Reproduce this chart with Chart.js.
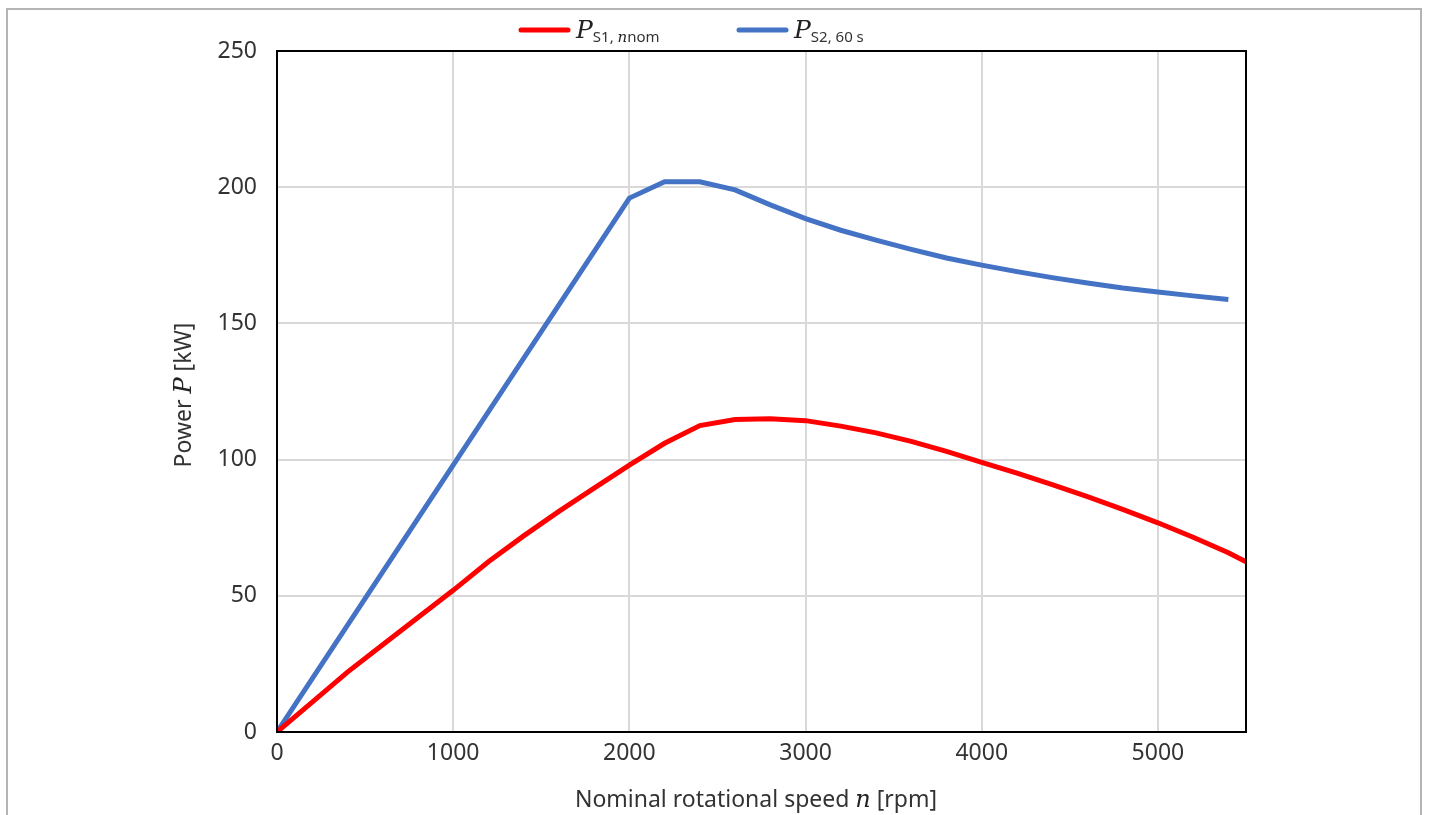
<!DOCTYPE html>
<html>
<head>
<meta charset="utf-8">
<script src="https://cdn.jsdelivr.net/npm/chart.js@4.4.0/dist/chart.umd.min.js"></script>
<style>
  html, body { margin: 0; padding: 0; background: #fff; }
  #wrap { position: relative; width: 1431px; height: 815px; }
  #frame { position: absolute; left: 6px; top: 8px; width: 1416px; height: 900px; border: 2px solid #b4b4b4; box-sizing: border-box; }
  canvas { position: absolute; left: 0; top: 0; }
</style>
</head>
<body>
<div id="wrap">
  <div id="frame"></div>
  <canvas id="c" width="1431" height="815"></canvas>
</div>
<script>
// ---- data ----
const redSpeed = [0, 200, 400, 600, 800, 1000, 1200, 1400, 1600, 1800, 2000, 2200, 2400, 2600, 2800, 3000, 3200, 3400, 3600, 3800, 4000, 4200, 4400, 4600, 4800, 5000, 5200, 5400, 5500];
const redPower = [0, 11, 22, 32, 42, 52, 62.5, 72, 81, 89.5, 98, 106, 112.5, 114.7, 115, 114.3, 112.3, 109.8, 106.7, 103, 99, 95, 90.8, 86.4, 81.7, 76.8, 71.5, 65.8, 62.5];
const blueSpeed = [0, 2000, 2200, 2400, 2600, 2800, 3000, 3200, 3400, 3600, 3800, 4000, 4200, 4400, 4600, 4800, 5000, 5200, 5400];
const bluePower = [0, 196, 202, 202, 199, 193.5, 188.5, 184.2, 180.6, 177.2, 174, 171.4, 169, 166.8, 164.8, 163, 161.5, 160.1, 158.8];
const xTicks = [0, 1000, 2000, 3000, 4000, 5000];
const yTicks = [0, 50, 100, 150, 200, 250];

const SANS = '"Noto Sans", "Open Sans", sans-serif';
const SERIF = '"DejaVu Serif", "Liberation Serif", serif';

function drawRich(ctx, segs, cx, cy, align) {
  let total = 0;
  segs.forEach(s => { ctx.font = s.font; s.w = ctx.measureText(s.text).width; total += s.w; });
  let x = align === 'left' ? cx : cx - total / 2;
  segs.forEach(s => {
    ctx.font = s.font;
    ctx.fillStyle = s.color || '#333';
    ctx.textBaseline = 'alphabetic';
    ctx.textAlign = 'left';
    ctx.fillText(s.text, x, cy + (s.dy || 0));
    x += s.w;
  });
}

const decor = {
  id: 'decor',
  afterDraw(chart) {
    const ctx = chart.ctx;
    const a = chart.chartArea;
    ctx.save();
    // plot frame
    ctx.strokeStyle = '#000';
    ctx.lineWidth = 2;
    ctx.strokeRect(a.left, a.top, a.right - a.left, a.bottom - a.top);
    // x title
    drawRich(ctx, [
      { text: 'Nominal rotational speed ', font: '23px ' + SANS },
      { text: 'n', font: 'italic 24px ' + SERIF, color: '#222' },
      { text: ' [rpm]', font: '23px ' + SANS }
    ], 756, 807);
    // y title (rotated)
    ctx.save();
    ctx.translate(191, 395);
    ctx.rotate(-Math.PI / 2);
    drawRich(ctx, [
      { text: 'Power ', font: '23px ' + SANS },
      { text: 'P', font: 'italic 24px ' + SERIF, color: '#222' },
      { text: ' [kW]', font: '23px ' + SANS }
    ], 0, 0);
    ctx.restore();
    // legend
    const items = [
      { x: 521, color: '#ff0000', sub: 'S1, ', subI: 'n', subEnd: 'nom' },
      { x: 739, color: '#4472c4', sub: 'S2, 60 s', subI: '', subEnd: '' }
    ];
    items.forEach(it => {
      ctx.strokeStyle = it.color;
      ctx.lineWidth = 5;
      ctx.lineCap = 'round';
      ctx.beginPath();
      ctx.moveTo(it.x, 30);
      ctx.lineTo(it.x + 47, 30);
      ctx.stroke();
      const segs = [
        { text: 'P', font: 'italic 25px ' + SERIF, color: '#222' },
        { text: it.sub, font: '15px ' + SANS, dy: 4 }
      ];
      if (it.subI) segs.push({ text: it.subI, font: 'italic 15px ' + SERIF, dy: 4, color: '#222' });
      if (it.subEnd) segs.push({ text: it.subEnd, font: '15px ' + SANS, dy: 4 });
      drawRich(ctx, segs, it.x + 55, 38, 'left');
    });
    ctx.restore();
  }
};

new Chart(document.getElementById('c'), {
  type: 'line',
  data: {
    datasets: [
      {
        label: 'P S1, n nom',
        data: redSpeed.map((s, i) => ({ x: s, y: redPower[i] })),
        borderColor: '#ff0000',
        borderWidth: 5,
        pointRadius: 0,
        fill: false,
        tension: 0
      },
      {
        label: 'P S2, 60 s',
        data: blueSpeed.map((s, i) => ({ x: s, y: bluePower[i] })),
        borderColor: '#4472c4',
        borderWidth: 5,
        pointRadius: 0,
        fill: false,
        tension: 0
      }
    ]
  },
  options: {
    responsive: false,
    animation: false,
    devicePixelRatio: 1,
    layout: { padding: { left: 0, top: 51, right: 185, bottom: 0 } },
    plugins: { legend: { display: false }, tooltip: { enabled: false } },
    scales: {
      x: {
        type: 'linear',
        min: 0, max: 5500,
        afterBuildTicks: s => { s.ticks = xTicks.map(v => ({ value: v })); },
        afterFit: s => { s.height = 83; },
        grid: { color: '#d9d9d9', lineWidth: 2, drawTicks: false },
        border: { display: false },
        ticks: { padding: 8, color: '#333', font: { family: SANS, size: 23 }, callback: v => String(v) }
      },
      y: {
        min: 0, max: 250,
        afterBuildTicks: s => { s.ticks = yTicks.map(v => ({ value: v })); },
        afterFit: s => { s.width = 277; },
        grid: { color: '#d9d9d9', lineWidth: 2, drawTicks: false },
        border: { display: false },
        ticks: { padding: 20, color: '#333', font: { family: SANS, size: 23 }, callback: v => String(v) }
      }
    }
  },
  plugins: [decor]
});
</script>
</body>
</html>
